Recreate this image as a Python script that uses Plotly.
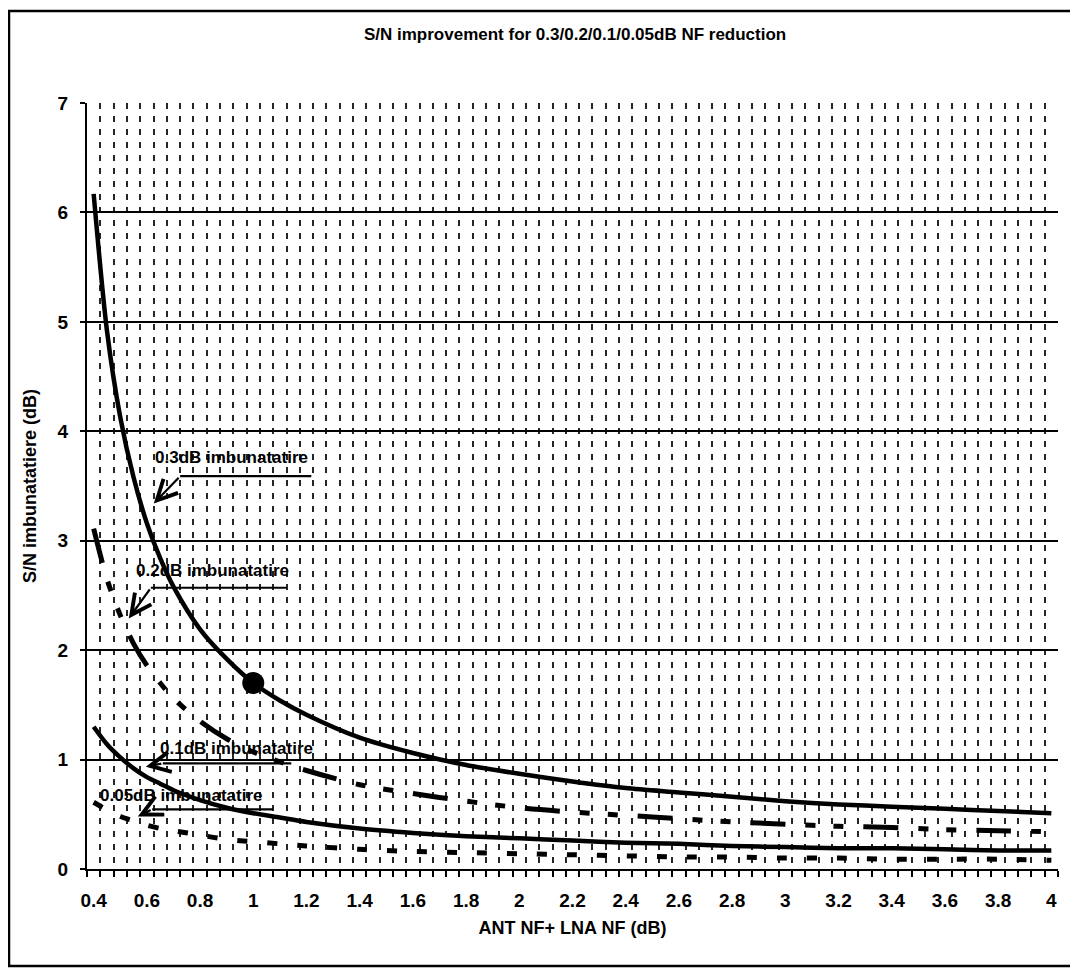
import plotly.graph_objects as go

# ---- data ----
x_nf = [0.4, 0.45, 0.5, 0.55, 0.6, 0.65, 0.7, 0.8, 0.9, 1.0, 1.1, 1.2, 1.4, 1.6, 1.8,
        2.0, 2.2, 2.4, 2.6, 2.8, 3.0, 3.2, 3.4, 3.6, 3.8, 4.0]
sn_03 = [6.17, 4.92, 4.13, 3.58, 3.16, 2.84, 2.58, 2.19, 1.92, 1.70, 1.54, 1.41, 1.20, 1.06, 0.95,
         0.87, 0.80, 0.74, 0.70, 0.66, 0.62, 0.59, 0.57, 0.55, 0.53, 0.51]
sn_02 = [3.11, 2.65, 2.32, 2.06, 1.86, 1.70, 1.56, 1.35, 1.19, 1.07, 0.98, 0.90, 0.77, 0.69, 0.62,
         0.56, 0.52, 0.49, 0.46, 0.43, 0.41, 0.39, 0.38, 0.36, 0.35, 0.34]
sn_01 = [1.30, 1.14, 1.02, 0.92, 0.84, 0.78, 0.72, 0.63, 0.56, 0.51, 0.47, 0.43, 0.37, 0.33, 0.30,
         0.28, 0.26, 0.24, 0.23, 0.21, 0.20, 0.19, 0.19, 0.18, 0.17, 0.17]
sn_005 = [0.61, 0.54, 0.48, 0.44, 0.40, 0.37, 0.35, 0.31, 0.27, 0.25, 0.23, 0.21, 0.18, 0.16, 0.15,
          0.14, 0.13, 0.12, 0.11, 0.11, 0.10, 0.10, 0.09, 0.09, 0.09, 0.08]
point_x = [1.0]
point_y = [1.70]

labels = ["0.3dB imbunatatire", "0.2dB imbunatatire", "0.1dB imbunatatire", "0.05dB imbunatatire"]

FONT = "Liberation Sans, Arial, sans-serif"

fig = go.Figure()
fig.add_trace(go.Scatter(x=x_nf, y=sn_03, mode="lines", line=dict(color="black", width=4.5, shape="spline", smoothing=0.8)))
fig.add_trace(go.Scatter(x=x_nf, y=sn_02, mode="lines",
                         line=dict(color="black", width=5, shape="spline", smoothing=0.8,
                                   dash="35px,20px,10px,18px,10px,20px")))
fig.add_trace(go.Scatter(x=x_nf, y=sn_01, mode="lines", line=dict(color="black", width=4.5, shape="spline", smoothing=0.8)))
fig.add_trace(go.Scatter(x=x_nf, y=sn_005, mode="lines",
                         line=dict(color="black", width=5, shape="spline", smoothing=0.8, dash="10px,20px")))
fig.add_trace(go.Scatter(x=point_x, y=point_y, mode="markers", marker=dict(color="black", size=22)))

# annotation texts
text_pos = [(0.622, 3.76), (0.551, 2.73), (0.640, 1.10), (0.415, 0.67)]
for (tx, ty), lab in zip(text_pos, labels):
    fig.add_annotation(x=tx, y=ty, text=lab, showarrow=False, xanchor="left", yanchor="middle",
                       font=dict(family=FONT, size=17, color="black", weight="bold"))

# leader lines (horizontal parts)
leaders = [(0.725, 1.218, 3.59), (0.615, 1.124, 2.57), (0.66, 1.143, 0.965), (0.62, 1.075, 0.545)]
for x0, x1, yy in leaders:
    fig.add_shape(type="line", x0=x0, x1=x1, y0=yy, y1=yy, xref="x", yref="y",
                  line=dict(color="black", width=2.2))

# arrow parts
arrows = [((0.626, 3.34), (0.725, 3.59)), ((0.532, 2.29), (0.615, 2.57)),
          ((0.596, 0.935), (0.66, 0.965)), ((0.566, 0.48), (0.62, 0.545))]
for (hx, hy), (tx, ty) in arrows:
    fig.add_annotation(x=hx, y=hy, ax=tx, ay=ty, axref="x", ayref="y", xref="x", yref="y",
                       text="", showarrow=True, arrowhead=5, arrowsize=1.8, arrowwidth=2.2,
                       arrowcolor="black")

# outer frame of the chart area (page has an 8px body margin)
W, H = 1070, 962
L, T, R, B = 79, 95, 20, 101
pw, ph = W - L - R, H - T - B
fig.add_shape(type="rect", xref="paper", yref="paper",
              x0=(1 - L) / pw, x1=(W + 20 - L) / pw,
              y0=(H - B - 958) / ph, y1=(H - B - 3) / ph,
              line=dict(color="black", width=2.5), layer="below")

fig.update_layout(
    width=W, height=H,
    margin=dict(l=L, r=R, t=T, b=B),
    paper_bgcolor="white", plot_bgcolor="white",
    showlegend=False,
    font=dict(family=FONT, color="black"),
    title=dict(text="<b>S/N improvement for 0.3/0.2/0.1/0.05dB NF reduction</b>",
               x=0.53, xanchor="center", y=1 - 26 / H, yanchor="middle", yref="container",
               font=dict(family=FONT, size=17, color="black")),
)

fig.update_xaxes(
    range=[0.375, 4.025], tick0=0.4, dtick=0.2, tickmode="linear",
    showgrid=False, zeroline=False,
    showline=True, linecolor="black", linewidth=2,
    ticks="outside", ticklen=6, tickcolor="rgba(0,0,0,0)", ticklabelstandoff=7,
    tickfont=dict(family=FONT, size=19, color="black", weight="bold"),
    minor=dict(tick0=0.375, dtick=0.05, ticks="outside", ticklen=6, tickcolor="black", tickwidth=1.5,
               showgrid=True, gridcolor="#262626", gridwidth=2, griddash="6px,7px"),
    title=dict(text="ANT NF+ LNA NF (dB)", standoff=12,
               font=dict(family=FONT, size=18, color="black", weight="bold")),
)
fig.update_yaxes(
    range=[0, 7], tick0=0, dtick=1, tickmode="linear",
    showgrid=True, gridcolor="black", gridwidth=1.5, zeroline=False,
    showline=True, linecolor="black", linewidth=2,
    ticks="outside", ticklen=5, tickcolor="black", tickwidth=1.5, ticklabelstandoff=8,
    tickfont=dict(family=FONT, size=19, color="black", weight="bold"),
    title=dict(text="S/N imbunatatiere (dB)", standoff=16,
               font=dict(family=FONT, size=18, color="black", weight="bold")),
)

fig.write_html("out.html")
